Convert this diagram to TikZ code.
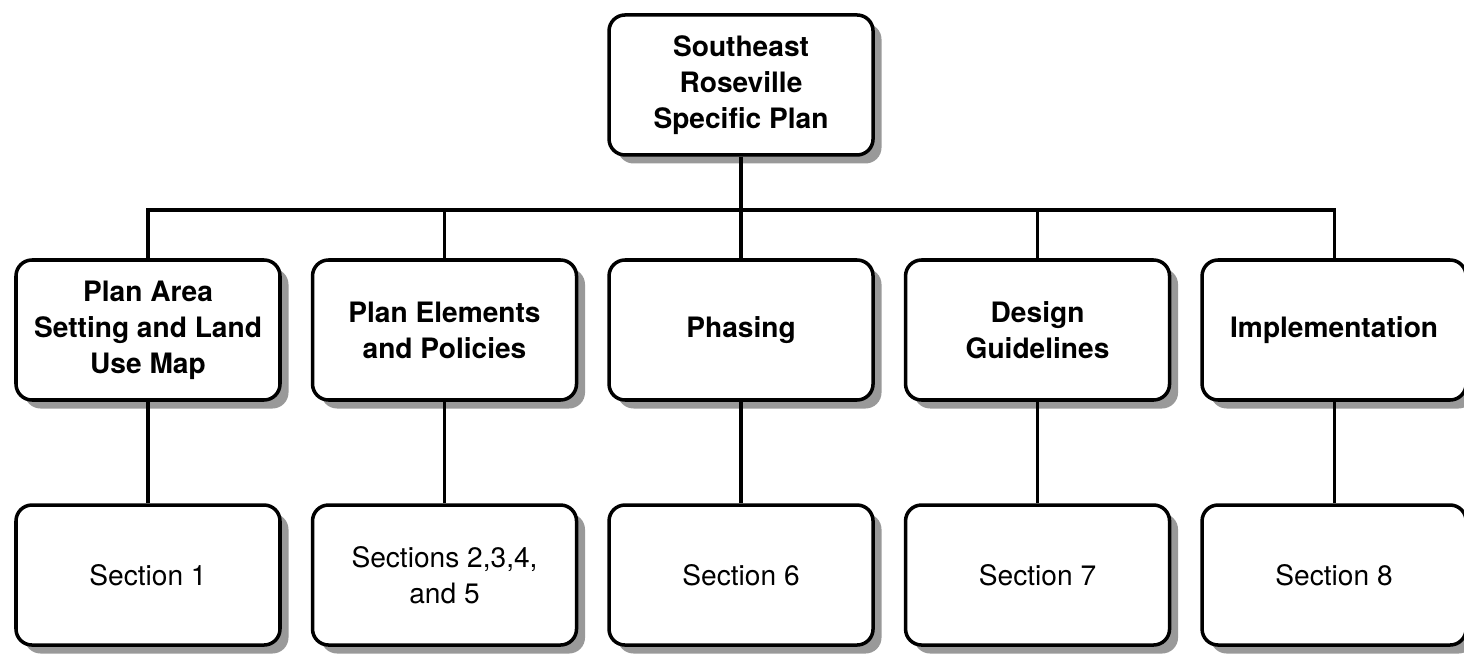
\documentclass[tikz,border=0pt]{standalone}
\usepackage{fontspec}
\setmainfont{TeX Gyre Heros}
\usetikzlibrary{
    positioning,
    shadows
}

\begin{document}
\begin{tikzpicture}[node distance=2.03cm and 0.58cm,
    box/.style={draw, line width=2pt, rounded corners=0.32cm, fill=white,
        minimum width=5.28cm, minimum height=2.8cm, align=center,
        font=\fontsize{16}{20.5}\selectfont,
        drop shadow={shadow xshift=0.17cm, shadow yshift=-0.17cm,
            opacity=1, fill=black!40}},
    head/.style={box, font=\fontsize{16}{20.5}\selectfont\bfseries},
    link/.style={line width=1.8pt}]
    \useasboundingbox (0,0) rectangle (29.28,-13.08);

    % middle row
    \node[head] (plan)  at (2.96,-6.6) {Plan Area\\Setting and Land\\Use Map};
    \node[head] (elem)  [right=of plan] {Plan Elements\\and Policies};
    \node[head] (phase) [right=of elem] {Phasing};
    \node[head] (design)[right=of phase] {Design\\Guidelines};
    \node[head] (impl)  [right=of design] {Implementation};

    % top
    \node[head] (srsp) [above=of phase] {Southeast\\Roseville\\Specific Plan};

    % bottom row
    \node[box] (sec1) [below=of plan] {Section 1};
    \node[box] (sec2) [below=of elem] {Sections 2,3,4,\\and 5};
    \node[box] (sec6) [below=of phase] {Section 6};
    \node[box] (sec7) [below=of design] {Section 7};
    \node[box] (sec8) [below=of impl] {Section 8};

    \coordinate (bus) at (0,-4.2);
    \draw[link] (plan.north) -- (plan.north |- bus) -- (impl.north |- bus) -- (impl.north);
    \foreach \n in {elem, phase, design}
        \draw[link] (\n.north) -- (\n.north |- bus);
    \draw[link] (srsp.south) -- (srsp.south |- bus);

    \draw[link] (plan) -- (sec1);
    \draw[link] (elem) -- (sec2);
    \draw[link] (phase) -- (sec6);
    \draw[link] (design) -- (sec7);
    \draw[link] (impl) -- (sec8);
\end{tikzpicture}
\end{document}
